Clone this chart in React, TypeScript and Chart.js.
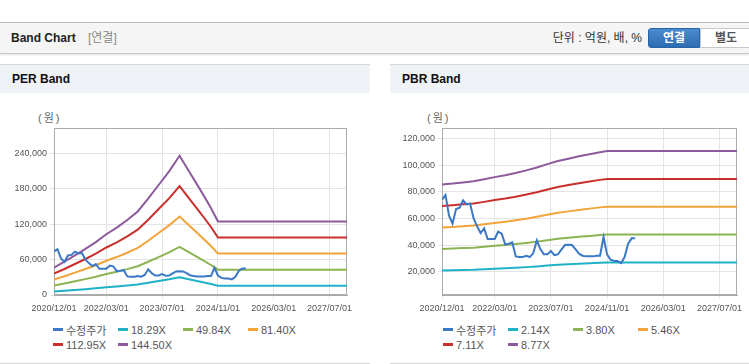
import React, { useEffect, useRef } from 'react';
import { Chart, registerables } from 'chart.js';

Chart.register(...registerables);

const FONT = '"Liberation Sans", Arial, "Noto Sans CJK KR", sans-serif';

// x axis: months since 2020/12/01
const tickMonths = [0, 15, 31, 47, 63, 79];
const tickLabels = ['2020/12/01', '2022/03/01', '2023/07/01', '2024/11/01', '2026/03/01', '2027/07/01'];

// band sample months
const bandMonths = [0, 3, 6, 9, 12, 15, 18, 21, 24, 27, 30, 33, 36, 39, 42, 45, 47, 84];

// adjusted price (monthly from 2020/12)
const priceValues = [
  74000, 77500, 62000, 56000, 67000, 68000, 73500, 70500, 71000, 60000,
  54000, 49000, 52500, 44500, 44500, 44500, 50000, 48500, 40500, 41000,
  42000, 31500, 31000, 31000, 32000, 31000, 34000, 43500, 37000, 33000,
  33000, 35500, 32500, 33000, 36500, 40000, 40300, 40000, 37000, 33500,
  32000, 31500, 31500, 31500, 32000, 32000, 46000, 33000, 29000, 28000,
  28000, 26500, 31000, 41000, 45000, 45000,
];

// PER bands
const per1829 = [5870, 7130, 8500, 9880, 11340, 13040, 14450, 16100, 17920, 20670, 23590, 26520, 29870, 26150, 22500, 18660, 15770, 15770];
const per4984 = [16000, 19440, 23180, 26910, 30900, 35540, 39370, 43860, 48840, 56320, 64290, 72270, 81390, 71270, 61300, 50840, 42960, 42960];
const per8140 = [26130, 31750, 37850, 43960, 50470, 58040, 64310, 71630, 79770, 91980, 105010, 118030, 132930, 116400, 100120, 83030, 70170, 70170];
const per11295 = [36260, 44050, 52520, 60990, 70030, 80530, 89230, 99400, 110690, 127630, 145710, 163780, 184450, 161520, 138930, 115210, 97360, 97360];
const per14450 = [46380, 56360, 67190, 78030, 89590, 103030, 114160, 127160, 141610, 163290, 186410, 209530, 235970, 206640, 177740, 147390, 124560, 124560];

// PBR bands
const pbr214 = [20840, 21010, 21230, 21420, 21790, 22190, 22530, 22960, 23430, 23970, 24570, 25150, 25570, 26000, 26390, 26750, 26960, 26960];
const pbr380 = [37010, 37320, 37700, 38040, 38680, 39410, 40010, 40770, 41610, 42560, 43620, 44650, 45410, 46170, 46850, 47500, 47880, 47880];
const pbr546 = [53180, 53620, 54160, 54650, 55580, 56620, 57490, 58590, 59790, 61150, 62680, 64160, 65250, 66340, 67320, 68250, 68800, 68800];
const pbr711 = [69250, 69820, 70530, 71170, 72380, 73730, 74870, 76290, 77850, 79630, 81620, 83540, 84960, 86390, 87670, 88880, 89590, 89590];
const pbr877 = [85420, 86120, 87000, 87790, 89280, 90940, 92350, 94100, 96030, 98220, 100680, 103050, 104800, 106560, 108130, 109630, 110500, 110500];

const perLabels = ['수정주가', '18.29X', '49.84X', '81.40X', '112.95X', '144.50X'];
const pbrLabels = ['수정주가', '2.14X', '3.80X', '5.46X', '7.11X', '8.77X'];

const perYTicks = [0, 60000, 120000, 180000, 240000];
const pbrYTicks = [20000, 40000, 60000, 80000, 100000, 120000];

const COLORS = ['#3b78c6', '#1fb2c6', '#8cb452', '#f2a43a', '#c9302c', '#8d5a9c'];

const framePlugin = {
  id: 'frame',
  beforeDatasetsDraw(chart: any) {
    const { ctx, chartArea } = chart;
    ctx.save();
    ctx.strokeStyle = '#aaaaaa';
    ctx.lineWidth = 1;
    ctx.strokeRect(
      Math.round(chartArea.left) + 0.5,
      Math.round(chartArea.top) + 0.5,
      Math.round(chartArea.right - chartArea.left) - 1,
      Math.round(chartArea.bottom - chartArea.top) - 1
    );
    ctx.restore();
  },
};

function buildDatasets(labels: string[], bands: number[][]) {
  const ds: any[] = [
    {
      label: labels[0],
      data: priceValues.map((y, i) => ({ x: i, y })),
      borderColor: COLORS[0],
      borderWidth: 2,
      pointRadius: 0,
      tension: 0,
    },
  ];
  bands.forEach((b, k) => {
    ds.push({
      label: labels[k + 1],
      data: b.map((y, i) => ({ x: bandMonths[i], y })),
      borderColor: COLORS[k + 1],
      borderWidth: 2,
      pointRadius: 0,
      tension: 0,
    });
  });
  return ds;
}

function makeConfig(datasets: any[], yMin: number, yMax: number, yTicks: number[], yWidth: number, padRight: number): any {
  return {
    type: 'line',
    data: { datasets },
    options: {
      animation: false,
      responsive: false,
      maintainAspectRatio: false,
      events: [],
      layout: { padding: { left: 0, top: 28, right: padRight, bottom: 0 } },
      plugins: { legend: { display: false }, tooltip: { enabled: false } },
      scales: {
        x: {
          type: 'linear',
          min: 0,
          max: 84,
          afterBuildTicks: (s: any) => {
            s.ticks = tickMonths.map((v) => ({ value: v }));
          },
          afterFit: (s: any) => {
            s.height = 25;
          },
          ticks: {
            autoSkip: false,
            maxRotation: 0,
            padding: 4,
            color: '#555',
            font: { size: 9, family: FONT },
            callback: (v: any) => tickLabels[tickMonths.indexOf(Number(v))] ?? '',
          },
          grid: { color: '#e4e4e4', tickLength: 4 },
          border: { color: '#aaaaaa' },
        },
        y: {
          type: 'linear',
          min: yMin,
          max: yMax,
          afterBuildTicks: (s: any) => {
            s.ticks = yTicks.map((v) => ({ value: v }));
          },
          afterFit: (s: any) => {
            s.width = yWidth;
          },
          ticks: {
            padding: 3,
            color: '#555',
            font: { size: 9, family: FONT },
            callback: (v: any) => Number(v).toLocaleString('en-US'),
          },
          grid: { color: '#e4e4e4', tickLength: 4 },
          border: { color: '#aaaaaa' },
        },
      },
    },
    plugins: [framePlugin],
  };
}

function ChartCanvas({ left, top, width, height, config }: any) {
  const ref = useRef<HTMLCanvasElement>(null);
  useEffect(() => {
    if (!ref.current) return;
    const chart = new Chart(ref.current, config);
    return () => chart.destroy();
  }, []);
  return (
    <canvas
      ref={ref}
      width={width}
      height={height}
      style={{ position: 'absolute', left, top, width, height }}
    />
  );
}

function Legend({ left, top, labels }: { left: number; top: number; labels: string[] }) {
  return (
    <>
      {labels.map((lab, i) => {
        const col = i % 4;
        const row = Math.floor(i / 4);
        return (
          <div
            key={lab}
            style={{
              position: 'absolute',
              left: left + col * 65,
              top: top + row * 15,
              height: 15,
              display: 'flex',
              alignItems: 'center',
              whiteSpace: 'nowrap',
              fontSize: 11,
              color: '#555',
              fontFamily: FONT,
            }}
          >
            <span style={{ display: 'inline-block', width: 10, height: 3, background: COLORS[i], marginRight: 3 }} />
            <span>{lab}</span>
          </div>
        );
      })}
    </>
  );
}

export default function App() {
  useEffect(() => {
    document.body.style.margin = '0';
  }, []);

  const perConfig = makeConfig(
    buildDatasets(perLabels, [per1829, per4984, per8140, per11295, per14450]),
    0,
    283000,
    perYTicks,
    54,
    23
  );
  const pbrConfig = makeConfig(
    buildDatasets(pbrLabels, [pbr214, pbr380, pbr546, pbr711, pbr877]),
    2520,
    127800,
    pbrYTicks,
    62,
    12
  );

  const panelHeaderText: React.CSSProperties = {
    position: 'absolute',
    top: 0,
    height: 28,
    lineHeight: '28px',
    fontSize: 12,
    fontWeight: 'bold',
    color: '#111',
    fontFamily: FONT,
  };

  const unitStyle: React.CSSProperties = {
    position: 'absolute',
    top: 111,
    fontSize: 11,
    color: '#666',
    lineHeight: '14px',
    letterSpacing: '2px',
    whiteSpace: 'nowrap',
  };

  return (
    <div style={{ position: 'absolute', left: 0, top: 0, width: 749, height: 364, background: '#fff', overflow: 'hidden', fontFamily: FONT }}>
      {/* top header bar */}
      <div
        style={{
          position: 'absolute',
          left: 0,
          top: 22,
          width: 749,
          height: 32,
          boxSizing: 'border-box',
          background: '#f5f5f5',
          borderTop: '1px solid #bdbdbd',
          borderBottom: '1px solid #c8c8c8',
          boxShadow: '0 1px 2px rgba(0,0,0,0.12)',
        }}
      >
        <span style={{ position: 'absolute', left: 11, top: 0, lineHeight: '30px', fontSize: 12, fontWeight: 'bold', color: '#222' }}>Band Chart</span>
        <span style={{ position: 'absolute', left: 88, top: 0, lineHeight: '30px', fontSize: 12, color: '#888' }}>[연결]</span>
        <span style={{ position: 'absolute', right: 749 - 642, top: 0, lineHeight: '30px', fontSize: 12, color: '#333', whiteSpace: 'nowrap' }}>단위 : 억원, 배, %</span>
        <div
          style={{
            position: 'absolute',
            left: 648,
            top: 5,
            width: 52,
            height: 20,
            boxSizing: 'border-box',
            borderRadius: '3px 0 0 3px',
            background: 'linear-gradient(#4b8bd0, #2d6cb3)',
            border: '1px solid #2a64a8',
            color: '#fff',
            fontSize: 12,
            fontWeight: 'bold',
            textAlign: 'center',
            lineHeight: '18px',
          }}
        >
          연결
        </div>
        <div
          style={{
            position: 'absolute',
            left: 700,
            top: 5,
            width: 52,
            height: 20,
            boxSizing: 'border-box',
            background: '#fff',
            border: '1px solid #c8c8c8',
            color: '#555',
            fontSize: 12,
            fontWeight: 'bold',
            textAlign: 'center',
            lineHeight: '18px',
          }}
        >
          별도
        </div>
      </div>

      {/* left panel */}
      <div style={{ position: 'absolute', left: 0, top: 64, width: 370, height: 300, boxSizing: 'border-box', borderTop: '1px solid #d9d9d9', borderBottom: '1px solid #d9d9d9' }}>
        <div style={{ position: 'absolute', left: 0, top: 0, width: 370, height: 28, background: '#eff2f7' }}>
          <span style={{ ...panelHeaderText, left: 12 }}>PER Band</span>
        </div>
      </div>
      {/* right panel */}
      <div style={{ position: 'absolute', left: 390, top: 64, width: 359, height: 300, boxSizing: 'border-box', borderTop: '1px solid #d9d9d9', borderBottom: '1px solid #d9d9d9' }}>
        <div style={{ position: 'absolute', left: 0, top: 0, width: 359, height: 28, background: '#eff2f7' }}>
          <span style={{ ...panelHeaderText, left: 12 }}>PBR Band</span>
        </div>
      </div>

      <span style={{ ...unitStyle, left: 38 }}>(원)</span>
      <span style={{ ...unitStyle, left: 427 }}>(원)</span>

      <ChartCanvas left={0} top={100} width={370} height={220} config={perConfig} />
      <ChartCanvas left={380} top={100} width={369} height={220} config={pbrConfig} />

      <Legend left={53} top={322} labels={perLabels} />
      <Legend left={443} top={322} labels={pbrLabels} />
    </div>
  );
}
